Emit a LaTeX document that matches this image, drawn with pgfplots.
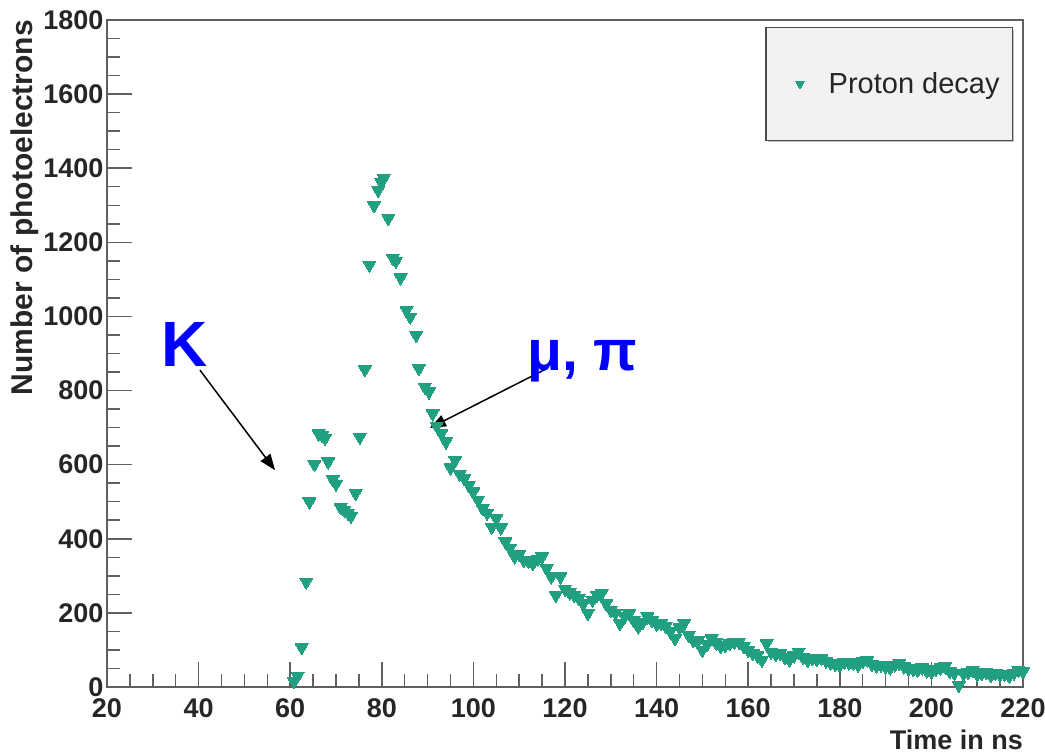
\documentclass[border=0pt]{standalone}
\usepackage{pgfplots}
\pgfplotsset{compat=1.18}
\usepackage{fontspec}
\setmainfont{Liberation Sans}
\usetikzlibrary{arrows.meta,shadows}
\definecolor{mk}{RGB}{32,160,128}
\definecolor{ax}{RGB}{95,95,95}
\definecolor{lfill}{RGB}{242,242,242}
\pgfplotstableread{
x y
60.8 15
61.6 30
62.5 107
63.5 284
64.2 500
65.3 601
66.2 684
67.0 680
67.6 672
68.3 608
69.3 560
70.0 548
71.0 485
71.8 478
72.6 470
73.3 462
74.3 523
75.2 675
76.3 857
77.3 1139
78.3 1300
79.2 1341
79.9 1362
80.4 1373
81.4 1265
82.4 1158
83.1 1150
84.1 1105
85.4 1017
86.2 999
87.5 950
88.1 860
89.4 810
90.3 797
91.1 738
92 705
93 684
94 662
95 592
96 612
97 575
98 563
99 545
100 527
101 505
102 482
103 470
104 432
105 455
106 430
107 392
108 375
109 352
110 358
111 343
112 340
113 334
114 345
115 352
116 320
117 298
118 248
119 298
120 265
121 255
122 248
123 240
124 225
125 199
126 235
127 248
128 253
129 225
130 208
131 200
132 172
133 190
134 199
135 180
136 163
137 175
138 190
139 180
140 170
141 172
142 165
143 150
144 131
145 160
146 172
147 140
148 127
149 125
150 100
151 115
152 131
153 120
154 110
155 113
156 118
157 122
158 122
159 110
160 100
161 91
162 85
163 73
164 118
165 95
166 88
167 91
168 80
169 73
170 85
171 95
172 80
173 73
174 77
175 75
176 78
177 70
178 65
179 62
180 59
181 68
182 66
183 64
184 60
185 70
186 73
187 62
188 58
189 60
190 55
191 52
192 60
193 64
194 55
195 50
196 48
197 46
198 52
199 44
200 41
201 48
202 52
203 55
204 42
205 38
206 5
207 36
208 40
209 45
210 35
211 37
212 40
213 32
214 38
215 33
216 35
217 30
218 38
219 46
220 42
}\datatable
\begin{document}
\begin{tikzpicture}[x=1pt,y=1pt]
\useasboundingbox (0,0) rectangle (1045,753);
\begin{axis}[
  at={(107pt,66pt)}, anchor=south west,
  scale only axis, width=916pt, height=667pt,
  xmin=20, xmax=220, ymin=0, ymax=1800,
  xtick={20,40,...,220}, ytick={0,200,...,1800},
  minor x tick num=3, minor y tick num=3,
  tick align=inside, tick pos=left,
  major tick length=25pt, minor tick length=13pt,
  axis line style={ax, line width=1.5pt},
  every tick/.style={ax, line width=1.5pt},
  /pgf/number format/1000 sep={},
  /pgf/number format/assume math mode=true,
  ticklabel style={font=\fontsize{27}{27}\selectfont\bfseries, text=black!85},
  xticklabel style={yshift=-8pt},
  xlabel={Time in ns}, ylabel={Number of photoelectrons},
  xlabel style={at={(axis description cs:1,0)}, anchor=base east, yshift=-62pt, inner sep=0pt, font=\fontsize{27}{27}\selectfont\bfseries, text=black!85},
  ylabel style={at={(axis description cs:-0.0808,1)}, anchor=base east, inner sep=0pt, font=\fontsize{30}{30}\selectfont\bfseries, text=black!85},
  clip=false,
  legend style={at={(0.989,0.9895)}, anchor=north east, draw=black!70, fill=lfill, line width=1.2pt,
    inner xsep=10.7pt, inner ysep=43pt,
    font=\fontsize{29}{29}\selectfont, text=black!85,
    drop shadow={shadow xshift=2pt, shadow yshift=-2pt, fill=black!45}},
  legend image code/.code={%
    \pgfpathmoveto{\pgfpoint{-23.3pt}{0pt}}%
    \pgfpathlineto{\pgfpoint{26.7pt}{0pt}}%
    \pgfusepath{}%
    \draw[#1, mark size=5pt] plot coordinates {(0pt,0pt)};},
]
\addplot[only marks, mark=triangle*, mark size=7.5pt, color=mk,
  mark options={fill=mk, draw=mk, line width=0pt, rotate=180}]
  table[x=x,y=y]{\datatable};
\addlegendentry{Proton decay}
\draw[line width=1.5pt, -{Triangle[length=16pt,width=12pt]}] (axis cs:40.3,855) -- (axis cs:56.7,585);
\draw[line width=1.5pt, -{Triangle[length=16pt,width=12pt]}] (axis cs:116.3,861) -- (axis cs:90.5,699);
\node[font=\fontsize{64}{64}\selectfont\bfseries, text=blue, inner sep=0pt] at (axis cs:37.0,923) {K};
\node[font=\fontsize{57}{57}\selectfont\bfseries, text=blue, inner sep=0pt, anchor=base west] at (axis cs:111.7,855) {μ, π};
\end{axis}
\end{tikzpicture}
\end{document}
